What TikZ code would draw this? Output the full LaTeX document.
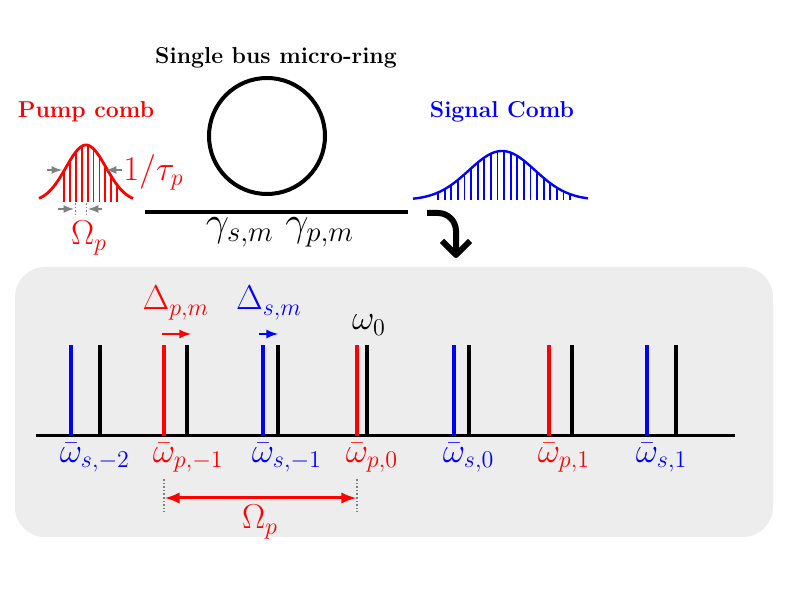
\documentclass[tikz,border=0pt]{standalone}
\usetikzlibrary{arrows,positioning,calc}
\definecolor{panelgray}{gray}{0.93}
\tikzset{
  bar/.style={line width=2.4pt},
  refbar/.style={line width=2pt, black},
  combline/.style={line width=0.9pt},
  thinarrow/.style={gray, -latex, line width=0.8pt},
  guide/.style={gray, densely dotted, line width=0.8pt},
  mathlabel/.style={font=\fontsize{18.5}{20}\selectfont},
  titlelabel/.style={font=\bfseries\fontsize{11.5}{13}\selectfont}
}

\begin{document}
\begin{tikzpicture}[x=0.5pt,y=-0.5pt]
\useasboundingbox (0,0) rectangle (789,592);
% the grey panel
\fill[panelgray, rounded corners=15pt] (15,267) rectangle (773,537);
% the titles
\node[titlelabel] (title) at (276,58) {Single bus micro-ring};
\node[red, titlelabel] (pumptitle) at (86,112) {Pump comb};
\node[blue, titlelabel] (signaltitle) at (502,112) {Signal Comb};
% the ring and its bus
\node[circle, draw, line width=2pt, minimum size=58pt, inner sep=0pt] (ring) at (267,136) {};
\coordinate (busL) at (145,212);
\coordinate (busR) at (408,212);
\draw[line width=2pt] (busL) -- (busR);
\node[mathlabel, font=\fontsize{19.5}{21}\selectfont] (gamma) at (280,232) {$\gamma_{s,m}\;\gamma_{p,m}$};
% the pump comb
\draw[red, line width=1.4pt, domain=-47:47, samples=60] plot ({86+\x},{202-57*exp(-(\x/20)^2/2)});
\foreach \k in {0,...,9}
  \draw[red, combline] ({64+5.9*\k},202) -- ({64+5.9*\k},{202-57*exp(-((64+5.9*\k-86)/20)^2/2)});
\draw[thinarrow] (47,170) -- (62,170);
\draw[thinarrow] (122,170) -- (106,170);
\node[red, anchor=west, inner sep=0pt, font=\LARGE] (taulabel) at (123,172) {$1/\tau_p$};
\draw[guide] (75.5,203) -- (75.5,217);
\draw[guide] (86.5,203) -- (86.5,217);
\draw[thinarrow] (58,209) -- (74,209);
\draw[thinarrow] (102,209) -- (88,209);
\node[red, mathlabel] (omegatop) at (89,238) {$\Omega_p$};
% the signal comb
\draw[blue, line width=1.2pt, domain=-89:86, samples=80] plot ({502+\x},{200-49*exp(-(\x/33)^2/2)});
\foreach \k in {0,...,20}
  \draw[blue, combline] ({438+6.6*\k},200) -- ({438+6.6*\k},{200-49*exp(-((438+6.6*\k-502)/33)^2/2)});
% the turning arrow
\draw[line width=3pt, rounded corners=9pt] (427,213) -- (456,213) -- (456,255);
\draw[line width=3pt, line join=round] (442,241) -- (456,255) -- (470,241);
% the frequency axis
\draw[line width=1.5pt] (36,436) -- (735,436);
% the lines and their labels
\foreach \c/\b/\col/\lab [count=\i] in {71/100/blue/{s,-2}, 164/187/red/{p,-1}, 263/278/blue/{s,-1},
    357/367/red/{p,0}, 454/469/blue/{s,0}, 549/572/red/{p,1}, 647/676/blue/{s,1}} {
  \draw[\col, bar] (\c,436) -- (\c,345);
  \draw[refbar] (\b,436) -- (\b,345);
  \node[\col, anchor=north west, inner sep=1pt, mathlabel] (lab\i) at ({\c-13.5},441) {$\bar\omega_{\lab}$};
}
% the detunings
\node[red, mathlabel] (deltap) at (176,303) {$\Delta_{p,m}$};
\draw[red, -latex, line width=1pt] (162,334) -- (191,334);
\node[blue, mathlabel] (deltas) at (269,303) {$\Delta_{s,m}$};
\draw[blue, -latex, line width=1pt] (259,334) -- (278,334);
\node[mathlabel] (omegazero) at (369,325) {$\omega_0$};
% the pump spacing
\draw[guide] (164,479) -- (164,512);
\draw[guide] (357,479) -- (357,512);
\draw[red, latex-latex, line width=1.5pt] (165,498) -- (356,498);
\node[red, mathlabel] (omegabot) at (260,522) {$\Omega_p$};
\end{tikzpicture}
\end{document}
